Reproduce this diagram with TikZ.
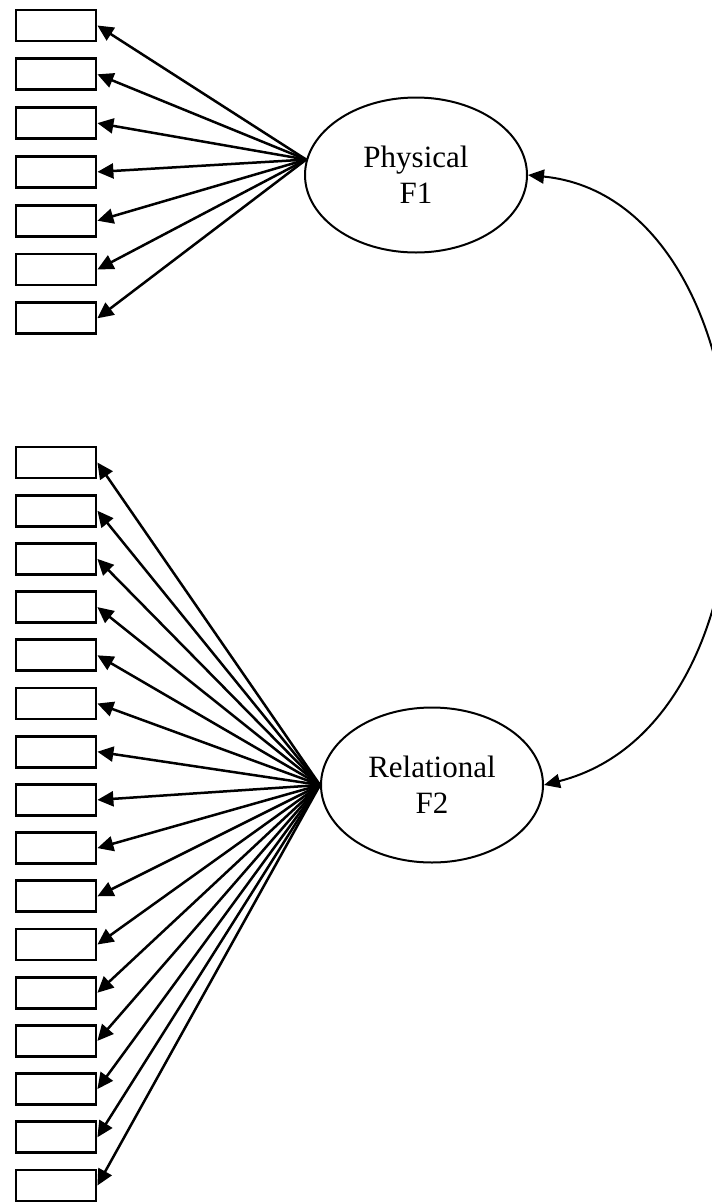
\documentclass[tikz,border=0pt]{standalone}
\usepackage{fontspec}
\setmainfont{Liberation Serif}
\usetikzlibrary{arrows.meta,shapes.geometric}
\begin{document}
\begin{tikzpicture}[x=1pt,y=-1pt,
  itembox/.style={draw,line width=2.8pt,rectangle,minimum width=80pt,minimum height=31pt,inner sep=0pt},
  factor/.style={draw,line width=2pt,ellipse,minimum width=222pt,minimum height=155pt,inner sep=0pt,align=center,font=\fontsize{31}{36}\selectfont},
  load/.style={line width=2.5pt,-{Triangle[length=16pt,width=15pt]}},
  corr/.style={line width=2pt,{Triangle[length=16pt,width=14pt]}-{Triangle[length=16pt,width=14pt]}}
]
\useasboundingbox (0,0) rectangle (712,1203);
\clip (0,0) rectangle (712,1203);
\node[factor] (F1) at (416,175) {Physical\\F1};
\node[factor] (F2) at (432,785) {Relational\\F2};
\coordinate (s1) at (F1.172);
\coordinate (s2) at (F2.180);
\foreach \i in {0,...,6}{
  \node[itembox] (a\i) at (56,{25.5+\i*48.8}) {};
  \draw[load] (s1) -- (a\i.east);
}
\foreach \i in {0,...,15}{
  \node[itembox] (b\i) at (56,{462.5+\i*48.2}) {};
  \draw[load] (s2) -- (b\i.east);
}
\draw[corr] (F2.east) .. controls (800,720) and (780,200) .. (F1.east);
\end{tikzpicture}
\end{document}
